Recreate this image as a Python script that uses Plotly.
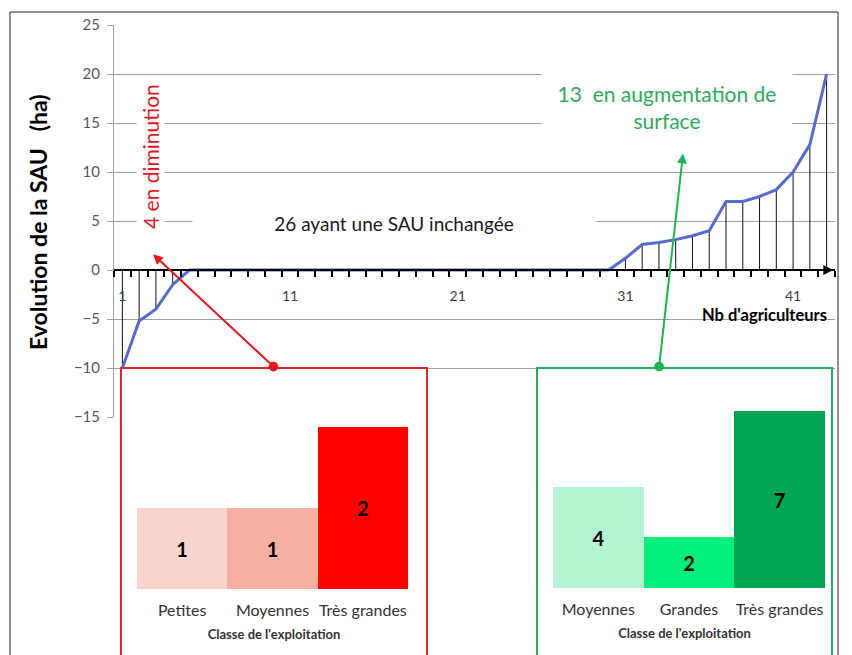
import plotly.graph_objects as go

# ---------------- data ----------------
farmers = list(range(1, 44))
sau_change = [-10, -5.2, -4, -1.5,
              0, 0, 0, 0, 0, 0, 0, 0, 0, 0, 0, 0, 0,
              0, 0, 0, 0, 0, 0, 0, 0, 0, 0, 0, 0, 0,
              1.2, 2.6, 2.8, 3.1, 3.5, 4.0, 7.0, 7.0, 7.5, 8.2, 10.0, 12.8, 20.0]
x_tick_vals = [1, 11, 21, 31, 41]
y_tick_vals = [-15, -10, -5, 0, 5, 10, 15, 20, 25]

dec_classes = ["Petites", "Moyennes", "Très grandes"]
dec_counts = [1, 1, 2]
dec_colors = ["#F9D4CC", "#F5AFA3", "#FF0000"]

inc_classes = ["Moyennes", "Grandes", "Très grandes"]
inc_counts = [4, 2, 7]
inc_colors = ["#B5F5D4", "#00F07A", "#00A651"]

W, H = 852, 655
FONT = "Lato"
OX, OY = 8, 8  # page (body margin) offset compensation


def px(x):
    return (x - OX) / W


def py(y):
    return 1 - (y - OY) / H


def inset_range(box_top, base, px_per_unit):
    """y-range of an inset whose domain spans page y box_top..(H+OY)."""
    bottom = H + OY
    return [-(bottom - base) / px_per_unit, (base - box_top) / px_per_unit]


fig = go.Figure()

# drop lines from each point to the axis
dx, dy = [], []
for xi, yi in zip(farmers, sau_change):
    dx += [xi, xi, None]
    dy += [0, yi, None]
fig.add_trace(go.Scatter(x=dx, y=dy, mode="lines",
                         line=dict(color="#111111", width=1),
                         hoverinfo="skip", showlegend=False))
# main line
fig.add_trace(go.Scatter(x=farmers, y=sau_change, mode="lines",
                         line=dict(color="#566BD0", width=3),
                         showlegend=False))

# inset bar charts
fig.add_trace(go.Bar(x=dec_classes, y=dec_counts, marker=dict(color=dec_colors, line=dict(width=0)),
                     width=1, text=[str(v) for v in dec_counts], textposition="inside",
                     insidetextanchor="middle",
                     textfont=dict(family=FONT, size=20, color="black", weight="bold"),
                     xaxis="x2", yaxis="y2", showlegend=False))
fig.add_trace(go.Bar(x=inc_classes, y=inc_counts, marker=dict(color=inc_colors, line=dict(width=0)),
                     width=1, text=[str(v) for v in inc_counts], textposition="inside",
                     insidetextanchor="middle",
                     textfont=dict(family=FONT, size=20, color="black", weight="bold"),
                     xaxis="x3", yaxis="y3", showlegend=False))

fig.update_layout(
    width=W, height=H,
    margin=dict(l=0, r=0, t=0, b=0, pad=0, autoexpand=False),
    paper_bgcolor="white", plot_bgcolor="white",
    font=dict(family=FONT, color="#404040"),
    bargap=0,
    xaxis=dict(domain=[px(114), px(835)], range=[0.5, 43.5],
               anchor="free", position=py(270), automargin=False,
               showgrid=False, zeroline=False,
               showline=True, linecolor="black", linewidth=2,
               tickmode="array", tickvals=x_tick_vals,
               ticks="outside", ticklen=13, tickcolor="rgba(0,0,0,0)",
               tickfont=dict(size=14, color="#404040"),
               minor=dict(tick0=0.5, dtick=1, ticks="outside", ticklen=6,
                          tickwidth=1.5, tickcolor="black", showgrid=False)),
    yaxis=dict(domain=[py(417), py(25)], range=[-15, 25], automargin=False,
               tickmode="array", tickvals=y_tick_vals,
               showgrid=True, gridcolor="#A0A0A0", gridwidth=1,
               zeroline=False, showline=True, linecolor="#A0A0A0", linewidth=1,
               ticks="outside", ticklen=6, tickcolor="#A0A0A0", ticklabelstandoff=4,
               tickfont=dict(size=15, color="#595959")),
    xaxis2=dict(domain=[px(121), px(427)], range=[-0.677, 2.710],
                anchor="free", position=py(589), automargin=False,
                showgrid=False, zeroline=False, showline=False,
                ticks="outside", ticklen=7, tickcolor="rgba(0,0,0,0)",
                tickfont=dict(size=16, color="#333333"),
                title=dict(text="Classe de l'exploitation", standoff=11,
                           font=dict(size=13, color="#333333", weight="bold"))),
    yaxis2=dict(domain=[0, py(368)], range=inset_range(368, 589, 81), anchor="x2",
                automargin=False, visible=False, showgrid=False, zeroline=False),
    xaxis3=dict(domain=[px(537), px(832)], range=[-0.676, 2.578],
                anchor="free", position=py(588), automargin=False,
                showgrid=False, zeroline=False, showline=False,
                ticks="outside", ticklen=7, tickcolor="rgba(0,0,0,0)",
                tickfont=dict(size=16, color="#333333"),
                title=dict(text="Classe de l'exploitation", standoff=11,
                           font=dict(size=13, color="#333333", weight="bold"))),
    yaxis3=dict(domain=[0, py(368)], range=inset_range(368, 588, 25.3), anchor="x3",
                automargin=False, visible=False, showgrid=False, zeroline=False),
)

shapes = [
    # outer chart border
    dict(type="rect", xref="paper", yref="paper", x0=px(10), x1=px(838), y0=-0.05, y1=py(12),
         line=dict(color="#222222", width=1), fillcolor="rgba(0,0,0,0)", layer="above"),
    # inset boxes
    dict(type="rect", xref="paper", yref="paper", x0=px(121), x1=px(427), y0=-0.05, y1=py(368),
         line=dict(color="#E0262B", width=2), fillcolor="rgba(0,0,0,0)", layer="above"),
    dict(type="rect", xref="paper", yref="paper", x0=px(537), x1=px(832), y0=-0.05, y1=py(368),
         line=dict(color="#2BA862", width=2), fillcolor="rgba(0,0,0,0)", layer="above"),
]
fig.update_layout(shapes=shapes)

annotations = [
    dict(text="<b>Evolution de la SAU&nbsp;&nbsp;&nbsp;(ha)</b>", xref="paper", yref="paper",
         x=px(38), y=py(222), xanchor="center", yanchor="middle",
         textangle=-90, showarrow=False,
         font=dict(size=23, color="black")),
    dict(text="<b>Nb d'agriculteurs</b>", xref="paper", yref="paper",
         x=px(829), y=py(315), xanchor="right", yanchor="middle", showarrow=False,
         font=dict(size=16.5, color="black")),
    dict(text="26 ayant une SAU inchangée", xref="paper", yref="paper",
         x=px(394), y=py(223), xanchor="center", yanchor="middle",
         showarrow=False, bgcolor="white", width=400, height=26,
         font=dict(size=19, color="#1A1A1A")),
    dict(text="4 en diminution", xref="paper", yref="paper",
         x=px(150), y=py(157), xanchor="center", yanchor="middle",
         textangle=-90, showarrow=False, bgcolor="white",
         font=dict(size=21, color="#E8141C")),
    dict(text="13  en augmentation de<br>surface", xref="paper", yref="paper",
         x=px(667), y=py(107), xanchor="center", yanchor="middle",
         showarrow=False, bgcolor="white", width=248, height=64,
         font=dict(size=21, color="#2EAA5C")),
    # arrows
    dict(text="", x=2.83, y=1.6, ax=10.1, ay=-10, xref="x", yref="y", axref="x", ayref="y",
         showarrow=True, arrowhead=2, arrowsize=1, arrowwidth=2, arrowcolor="#E8141C",
         arrowside="end+start", startarrowhead=6, startarrowsize=1.2),
    dict(text="", x=34.44, y=11.9, ax=33.0, ay=-10, xref="x", yref="y", axref="x", ayref="y",
         showarrow=True, arrowhead=2, arrowsize=1, arrowwidth=2, arrowcolor="#1DB551",
         arrowside="end+start", startarrowhead=6, startarrowsize=1.2),
    # arrow on the end of the x axis
    dict(text="", x=43.4, y=0, ax=42.8, ay=0, xref="x", yref="y", axref="x", ayref="y",
         showarrow=True, arrowhead=2, arrowsize=1, arrowwidth=2, arrowcolor="black"),
]
fig.update_layout(annotations=annotations)

fig.write_html("out.html")
